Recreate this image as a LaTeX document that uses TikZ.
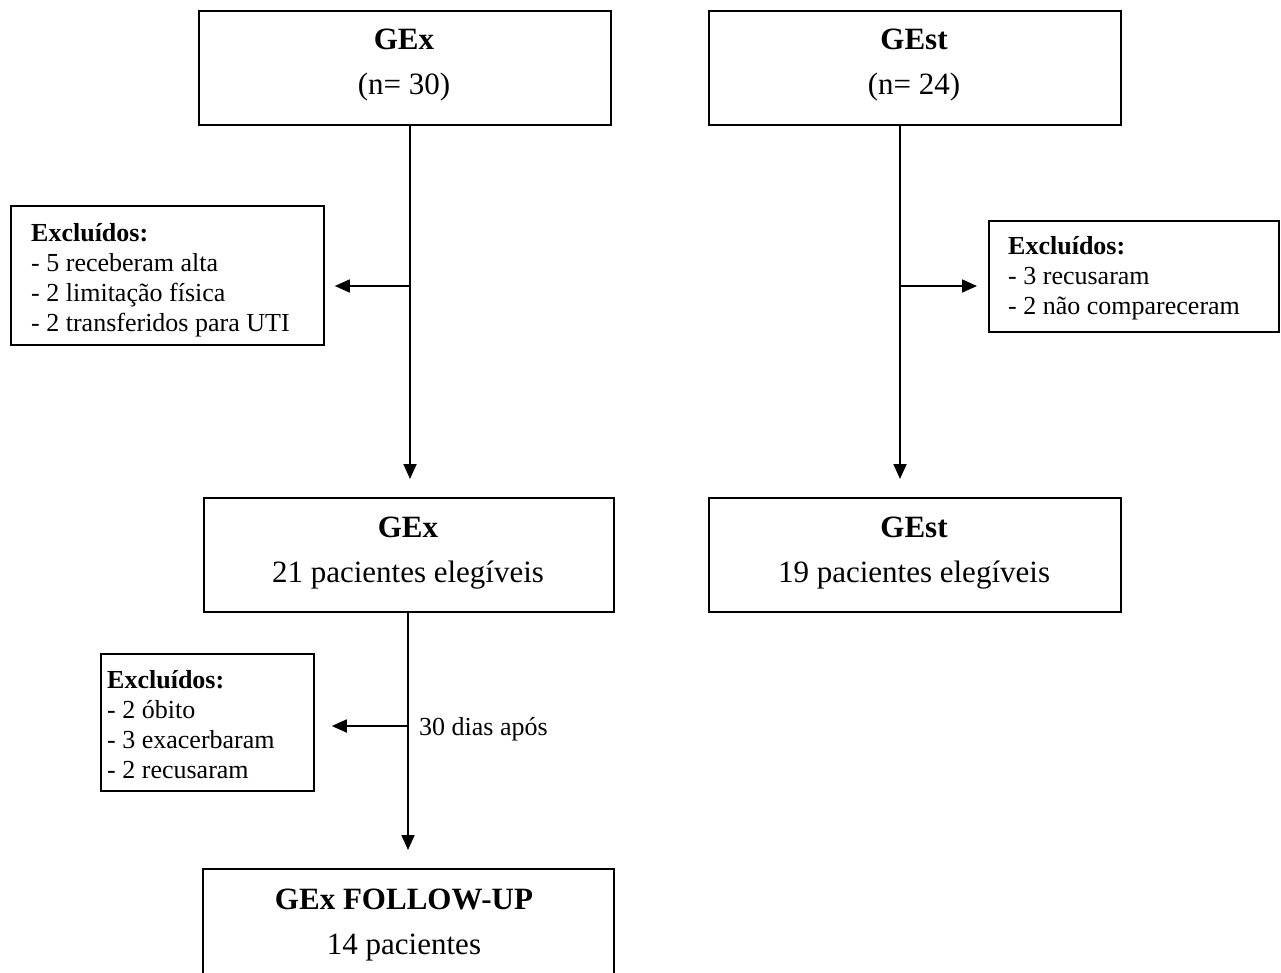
\documentclass[tikz,border=0pt]{standalone}
\usepackage{fontspec}
\setmainfont{Liberation Serif}
\usetikzlibrary{arrows.meta}
\begin{document}
\begin{tikzpicture}[x=1pt,y=-1pt,
  box/.style={draw, line width=1.8pt, rectangle, inner sep=0pt, anchor=north west},
  big/.style={font=\fontsize{31}{36}\selectfont, inner sep=0pt, anchor=base},
  small/.style={font=\fontsize{26}{30}\selectfont, inner sep=0pt, anchor=base west},
  arr/.style={line width=1.8pt, -{Triangle[length=15pt,width=13pt]}}
]
\useasboundingbox (0,0) rectangle (1281,973);
\clip (0,0) rectangle (1281,973);

% boxes
\node[box, minimum width=412pt, minimum height=114pt] (topA) at (198,10) {};
\node[box, minimum width=412pt, minimum height=114pt] (topB) at (708,10) {};
\node[box, minimum width=410pt, minimum height=114pt] (midA) at (203,497) {};
\node[box, minimum width=412pt, minimum height=114pt] (midB) at (708,497) {};
\node[box, minimum width=313pt, minimum height=139pt] (exA) at (10,205) {};
\node[box, minimum width=290pt, minimum height=111pt] (exB) at (988,220) {};
\node[box, minimum width=213pt, minimum height=137pt] (exC) at (100,653) {};
\node[box, minimum width=411pt, minimum height=150pt] (fin) at (202,868) {};

% texts
\node[big] (topAt1) at (404,50) {\bfseries GEx};
\node[big] (topAt2) at (404,95) {(n= 30)};
\node[big] (topBt1) at (914,50) {\bfseries GEst};
\node[big] (topBt2) at (914,95) {(n= 24)};
\node[big] (midAt1) at (408,537) {\bfseries GEx};
\node[big] (midAt2) at (408,582) {21 pacientes elegíveis};
\node[big] (midBt1) at (914,537) {\bfseries GEst};
\node[big] (midBt2) at (914,582) {19 pacientes elegíveis};
\node[big] (fint1) at (404,909) {\bfseries GEx FOLLOW-UP};
\node[big] (fint2) at (404,954) {14 pacientes};

\node[small] (exAt) at (31,242) {\begin{tabular}[t]{@{}l@{}}\textbf{Excluídos:}\\- 5 receberam alta\\- 2 limitação física\\- 2 transferidos para UTI\end{tabular}};
\node[small] (exBt) at (1008,255) {\begin{tabular}[t]{@{}l@{}}\textbf{Excluídos:}\\- 3 recusaram\\- 2 não compareceram\end{tabular}};
\node[small] (exCt) at (107,688) {\begin{tabular}[t]{@{}l@{}}\textbf{Excluídos:}\\- 2 óbito\\- 3 exacerbaram\\- 2 recusaram\end{tabular}};
\node[small] (lbl) at (419,735) {30 dias após};

% connectors
\coordinate (jA) at (410,286);
\coordinate (jB) at (900,286);
\coordinate (jC) at (408,726);
\draw[arr, shorten >=18pt] (topA.south -| jA) -- (midA.north -| jA);
\draw[arr] (jA) -- ([xshift=10pt]jA -| exA.east);
\draw[arr, shorten >=18pt] (topB.south -| jB) -- (midB.north -| jB);
\draw[arr] (jB) -- ([xshift=-11pt]jB -| exB.west);
\draw[arr, shorten >=18pt] (midA.south -| jC) -- (fin.north -| jC);
\draw[arr] (jC) -- ([xshift=17pt]jC -| exC.east);
\end{tikzpicture}
\end{document}
